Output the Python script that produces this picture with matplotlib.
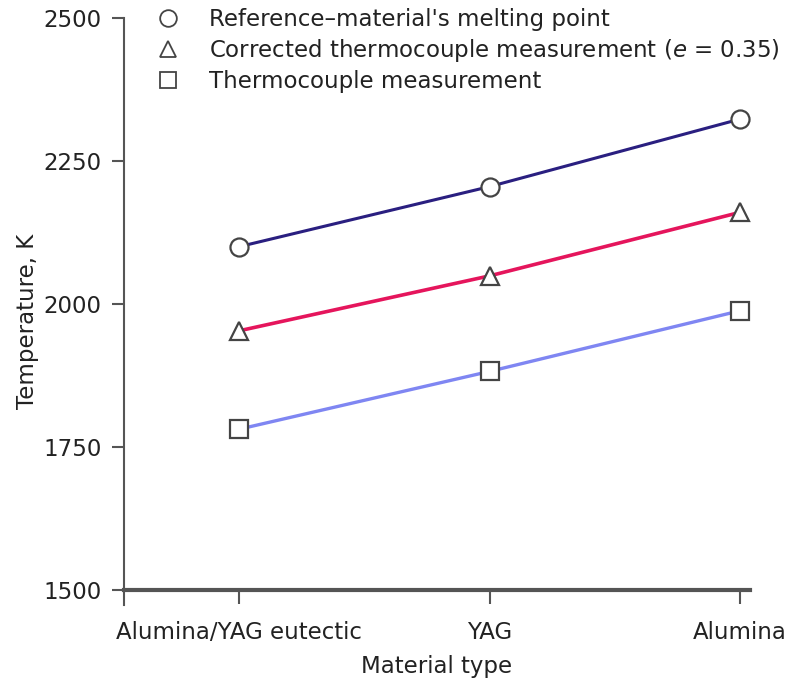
import matplotlib
matplotlib.use("Agg")
import matplotlib.pyplot as plt
from matplotlib.lines import Line2D

# Data
materials = ["Alumina/YAG eutectic", "YAG", "Alumina"]
melting_point = [2100, 2205, 2323]
corrected_tc = [1953, 2049, 2160]
thermocouple = [1781, 1882, 1988]

plt.rcParams["font.family"] = ["DejaVu Sans"]
plt.rcParams["mathtext.fontset"] = "dejavusans"

text_col = "#222222"
axis_col = "#555555"
fs = 16.5

fig = plt.figure(figsize=(8, 6.86), dpi=100)
ax = fig.add_axes([0.155, 0.14, 0.7825, 0.834])

x = list(range(len(materials)))
mk = dict(markersize=13, markerfacecolor="white", markeredgecolor="#444444",
          markeredgewidth=1.6, zorder=3)
ax.plot(x, melting_point, color="#2a1f80", linewidth=2.2, marker="o", **mk)
ax.plot(x, corrected_tc, color="#e5155c", linewidth=2.6, marker="^", **mk)
ax.plot(x, thermocouple, color="#7f86f2", linewidth=2.4, marker="s", **mk)

ax.set_xlim(-0.46, 2.04)
ax.set_ylim(1500, 2500)
ax.set_yticks([1500, 1750, 2000, 2250, 2500])
ax.set_xticks(x)
ax.set_xticklabels(materials)

for s in ["top", "right"]:
    ax.spines[s].set_visible(False)
ax.spines["left"].set_color(axis_col)
ax.spines["left"].set_linewidth(1.5)
ax.spines["left"].set_bounds(1474, 2500)
ax.spines["bottom"].set_color(axis_col)
ax.spines["bottom"].set_linewidth(3)
ax.tick_params(axis="y", length=9, width=1.5, color=axis_col, labelsize=fs,
               labelcolor=text_col, pad=7)
ax.tick_params(axis="x", length=10, width=1.5, color=axis_col, labelsize=fs,
               labelcolor=text_col, pad=12)

ax.set_xlabel("Material type", fontsize=fs, color=text_col, labelpad=8)
ax.set_ylabel("Temperature, K", fontsize=fs, color=text_col, labelpad=16)
ax.yaxis.set_label_coords(-0.135, 0.47)

# Legend (markers only)
handles = [Line2D([], [], linestyle="none", marker=m, markersize=12,
                  markerfacecolor="white", markeredgecolor="#444444",
                  markeredgewidth=1.3)
           for m in ["o", "^", "s"]]
labels = ["Reference\u2013material's melting point",
          "Corrected thermocouple measurement ($\\it{e}$ = 0.35)",
          "Thermocouple measurement"]
leg = fig.legend(handles, labels, loc="upper left", bbox_to_anchor=(0.175, 1.008),
                 frameon=False, fontsize=fs, handletextpad=1.2, labelspacing=0.25,
                 handlelength=1.2, borderpad=0.1)
for t in leg.get_texts():
    t.set_color(text_col)

plt.savefig("out.png", dpi=100)
